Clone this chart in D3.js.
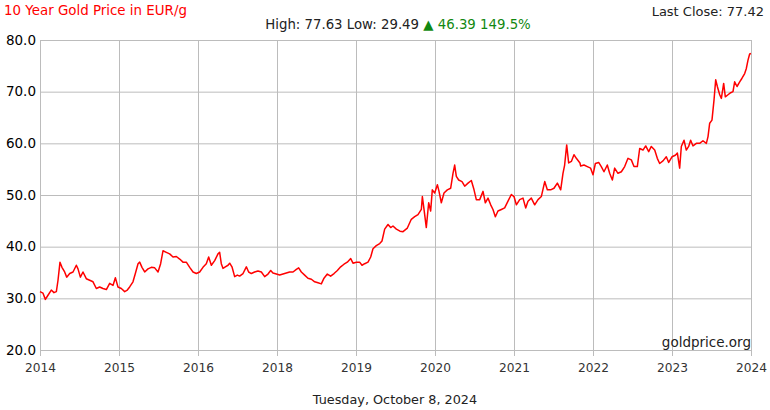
<!DOCTYPE html>
<html>
<head>
<meta charset="utf-8">
<script src="https://cdn.jsdelivr.net/npm/d3@7"></script>
<style>
    body { margin: 0; background: #fff; }
    svg { display: block; font-family: "DejaVu Sans", Verdana, sans-serif; }
</style>
</head>
<body>
<script>
// axis labels, one per gridline (as printed on the chart)
var yearLabels = ["2014", "2015", "2016", "2018", "2019", "2020", "2021", "2022", "2023", "2024"];
var priceTicks = [20, 30, 40, 50, 60, 70, 80];

// position along the time axis (in gridline units, 0 = first line) and price in EUR/g
var pos = [
    0.000, 0.038, 0.068, 0.101, 0.143, 0.177, 0.207, 0.228, 0.253, 0.278,
    0.312, 0.338, 0.376, 0.418, 0.460, 0.481, 0.511, 0.544, 0.586, 0.629,
    0.671, 0.713, 0.755, 0.797, 0.840, 0.882, 0.924, 0.954, 0.987, 1.029,
    1.072, 1.105, 1.135, 1.177, 1.207, 1.241, 1.262, 1.291, 1.325, 1.367,
    1.409, 1.452, 1.494, 1.527, 1.557, 1.599, 1.641, 1.684, 1.726, 1.768,
    1.810, 1.852, 1.895, 1.937, 1.979, 2.021, 2.063, 2.105, 2.135, 2.169,
    2.211, 2.253, 2.274, 2.295, 2.316, 2.346, 2.380, 2.401, 2.430, 2.464,
    2.498, 2.527, 2.570, 2.612, 2.641, 2.675, 2.717, 2.759, 2.802, 2.844,
    2.886, 2.920, 2.949, 2.992, 3.034, 3.076, 3.118, 3.160, 3.203, 3.245,
    3.274, 3.308, 3.350, 3.392, 3.435, 3.477, 3.519, 3.561, 3.595, 3.637,
    3.679, 3.722, 3.764, 3.806, 3.848, 3.890, 3.933, 3.962, 4.004, 4.046,
    4.076, 4.110, 4.152, 4.186, 4.215, 4.257, 4.300, 4.329, 4.363, 4.405,
    4.439, 4.468, 4.511, 4.557, 4.595, 4.650, 4.700, 4.743, 4.785, 4.827,
    4.840, 4.861, 4.890, 4.920, 4.945, 4.966, 4.996, 5.030, 5.051, 5.080,
    5.114, 5.156, 5.198, 5.228, 5.249, 5.270, 5.300, 5.342, 5.376, 5.418,
    5.460, 5.494, 5.523, 5.566, 5.608, 5.637, 5.671, 5.705, 5.734, 5.764,
    5.797, 5.840, 5.882, 5.924, 5.966, 6.000, 6.030, 6.072, 6.114, 6.148,
    6.177, 6.219, 6.262, 6.304, 6.346, 6.389, 6.422, 6.464, 6.506, 6.549,
    6.591, 6.620, 6.641, 6.667, 6.692, 6.726, 6.759, 6.789, 6.835, 6.844,
    6.886, 6.928, 6.970, 7.000, 7.030, 7.072, 7.105, 7.139, 7.181, 7.211,
    7.245, 7.274, 7.316, 7.359, 7.401, 7.443, 7.485, 7.519, 7.561, 7.591,
    7.633, 7.667, 7.705, 7.738, 7.781, 7.814, 7.844, 7.886, 7.928, 7.958,
    8.000, 8.042, 8.068, 8.097, 8.118, 8.152, 8.181, 8.211, 8.236, 8.266,
    8.308, 8.350, 8.392, 8.435, 8.456, 8.477, 8.506, 8.532, 8.553, 8.574,
    8.604, 8.625, 8.654, 8.675, 8.709, 8.743, 8.772, 8.793, 8.823, 8.857,
    8.886, 8.920, 8.941, 8.962, 8.983, 9.000
];
var price = [
    31.3, 31.0, 29.8, 30.6, 31.6, 31.1, 31.3, 33.5, 37.0, 36.0,
    35.1, 34.1, 34.8, 35.1, 36.4, 35.7, 34.1, 35.1, 33.8, 33.5,
    33.2, 31.9, 32.2, 31.9, 31.7, 32.9, 32.5, 34.0, 32.2, 31.9,
    31.3, 31.6, 32.2, 33.2, 34.8, 36.7, 37.0, 36.0, 35.1, 35.7,
    36.0, 35.9, 35.1, 36.7, 39.2, 38.9, 38.6, 38.0, 38.1, 37.6,
    37.0, 37.0, 36.0, 35.1, 34.8, 35.1, 36.0, 36.7, 38.0, 36.4,
    37.3, 38.6, 38.9, 36.7, 35.8, 36.1, 36.4, 36.8, 36.1, 34.2,
    34.5, 34.3, 34.8, 36.1, 35.1, 34.8, 35.1, 35.3, 35.1, 34.2,
    34.7, 35.4, 34.9, 34.7, 34.5, 34.7, 34.9, 35.1, 35.1, 35.6,
    35.9, 35.1, 34.5, 33.9, 33.7, 33.2, 33.0, 32.8, 33.9, 34.7,
    34.3, 34.8, 35.4, 36.1, 36.6, 37.0, 37.7, 36.8, 37.0, 37.0,
    36.4, 36.7, 37.0, 38.0, 39.6, 40.2, 40.6, 41.1, 43.4, 44.3,
    43.7, 44.0, 43.4, 43.0, 42.9, 43.6, 45.3, 45.8, 46.2, 47.2,
    49.7, 47.2, 43.7, 48.5, 46.9, 51.0, 50.4, 52.0, 50.7, 48.5,
    50.4, 51.0, 51.3, 54.2, 55.8, 53.6, 52.9, 52.6, 51.7, 52.3,
    52.8, 51.0, 49.1, 49.1, 50.7, 48.5, 49.4, 48.1, 47.2, 45.8,
    46.9, 47.2, 47.5, 48.8, 50.1, 49.7, 48.1, 49.1, 49.4, 47.5,
    48.8, 49.4, 48.1, 49.1, 49.7, 52.6, 51.0, 51.0, 51.3, 52.3,
    51.0, 54.2, 55.8, 59.7, 56.2, 56.5, 57.8, 57.1, 56.2, 55.6,
    55.8, 55.5, 55.2, 53.9, 56.1, 56.3, 55.5, 54.5, 55.8, 54.2,
    52.9, 55.2, 54.2, 54.5, 55.5, 57.1, 56.8, 55.5, 55.5, 59.0,
    58.7, 59.5, 58.4, 59.4, 58.7, 57.1, 56.1, 56.6, 57.4, 56.3,
    57.4, 57.7, 58.1, 55.2, 59.4, 60.6, 58.7, 59.4, 60.6, 59.5,
    60.0, 60.0, 60.5, 60.0, 61.3, 63.9, 64.5, 68.4, 72.3, 71.0,
    69.4, 68.7, 71.6, 69.0, 69.4, 69.8, 70.0, 71.9, 71.0, 71.9,
    72.6, 73.5, 74.5, 76.1, 77.3, 77.4
];

var title = "10 Year Gold Price in EUR/g";
var lastClose = "Last Close: 77.42";
var statsText = "High: 77.63 Low: 29.49 ";
var changeText = "\u25B2 46.39 149.5%";
var dateText = "Tuesday, October 8, 2024";
var sourceText = "goldprice.org";

window.onload = function() {
    drawChart();
};

function drawChart() {
    var width = 770;
    var height = 410;
    var margin = {top: 40, right: 19, bottom: 60, left: 40};
    var innerW = width - margin.left - margin.right;
    var innerH = height - margin.top - margin.bottom;

    var svg = d3.select("body")
        .append("svg")
        .attr("width", width)
        .attr("height", height);

    var x = d3.scaleLinear()
        .domain([0, yearLabels.length - 1])
        .range([margin.left, margin.left + innerW]);

    var y = d3.scaleLinear()
        .domain([20, 80])
        .range([margin.top + innerH, margin.top]);

    var gridColor = "#bcbcbc";

    // vertical gridlines
    var xGrid = svg.append("g")
        .attr("transform", "translate(0," + (margin.top + innerH) + ")")
        .call(d3.axisBottom(x)
            .tickValues(d3.range(yearLabels.length))
            .tickSize(-innerH)
            .tickFormat(""));
    xGrid.select(".domain").remove();
    xGrid.selectAll("line").attr("stroke", gridColor);

    // horizontal gridlines
    var yGrid = svg.append("g")
        .attr("transform", "translate(" + margin.left + ",0)")
        .call(d3.axisRight(y)
            .tickValues(priceTicks)
            .tickSize(innerW)
            .tickFormat(""));
    yGrid.select(".domain").remove();
    yGrid.selectAll("line").attr("stroke", gridColor);

    // bottom axis: short stubs plus year labels
    var xAxis = svg.append("g")
        .attr("transform", "translate(0," + (margin.top + innerH) + ")")
        .call(d3.axisBottom(x)
            .tickValues(d3.range(yearLabels.length))
            .tickSize(6)
            .tickPadding(7)
            .tickFormat(function(d) { return yearLabels[d]; }));
    xAxis.select(".domain").remove();
    xAxis.selectAll("line").attr("stroke", gridColor);
    xAxis.selectAll("text")
        .attr("fill", "#333")
        .style("font-size", "12.2px")
        .style("font-family", "DejaVu Sans");

    // left axis labels
    var yAxis = svg.append("g")
        .attr("transform", "translate(" + margin.left + ",0)")
        .call(d3.axisLeft(y)
            .tickValues(priceTicks)
            .tickSize(0)
            .tickPadding(4)
            .tickFormat(d3.format(".1f")));
    yAxis.select(".domain").remove();
    yAxis.selectAll("text")
        .attr("fill", "#000")
        .style("font-size", "13.5px")
        .style("font-family", "DejaVu Sans");

    // price line
    var points = pos.map(function(p, i) { return [p, price[i]]; });
    var line = d3.line()
        .x(function(d) { return x(d[0]); })
        .y(function(d) { return y(d[1]); });

    svg.append("path")
        .datum(points)
        .attr("d", line)
        .attr("fill", "none")
        .attr("stroke", "#ff0000")
        .attr("stroke-width", 1.5)
        .attr("stroke-linejoin", "round");

    // texts
    svg.append("text")
        .attr("x", 4)
        .attr("y", 15)
        .attr("fill", "#ff0000")
        .style("font-size", "13.4px")
        .text(title);

    svg.append("text")
        .attr("x", 764)
        .attr("y", 16)
        .attr("text-anchor", "end")
        .attr("fill", "#222")
        .style("font-size", "13px")
        .text(lastClose);

    var stats = svg.append("text")
        .attr("x", 398)
        .attr("y", 29)
        .attr("text-anchor", "middle")
        .style("font-size", "13.3px");
    stats.append("tspan").attr("fill", "#222").text(statsText);
    stats.append("tspan").attr("fill", "#118811").text(changeText);

    svg.append("text")
        .attr("x", 751)
        .attr("y", 347)
        .attr("text-anchor", "end")
        .attr("fill", "#222")
        .style("font-size", "13.5px")
        .text(sourceText);

    svg.append("text")
        .attr("x", 395)
        .attr("y", 404)
        .attr("text-anchor", "middle")
        .attr("fill", "#222")
        .style("font-size", "12.8px")
        .text(dateText);
}
</script>
</body>
</html>
